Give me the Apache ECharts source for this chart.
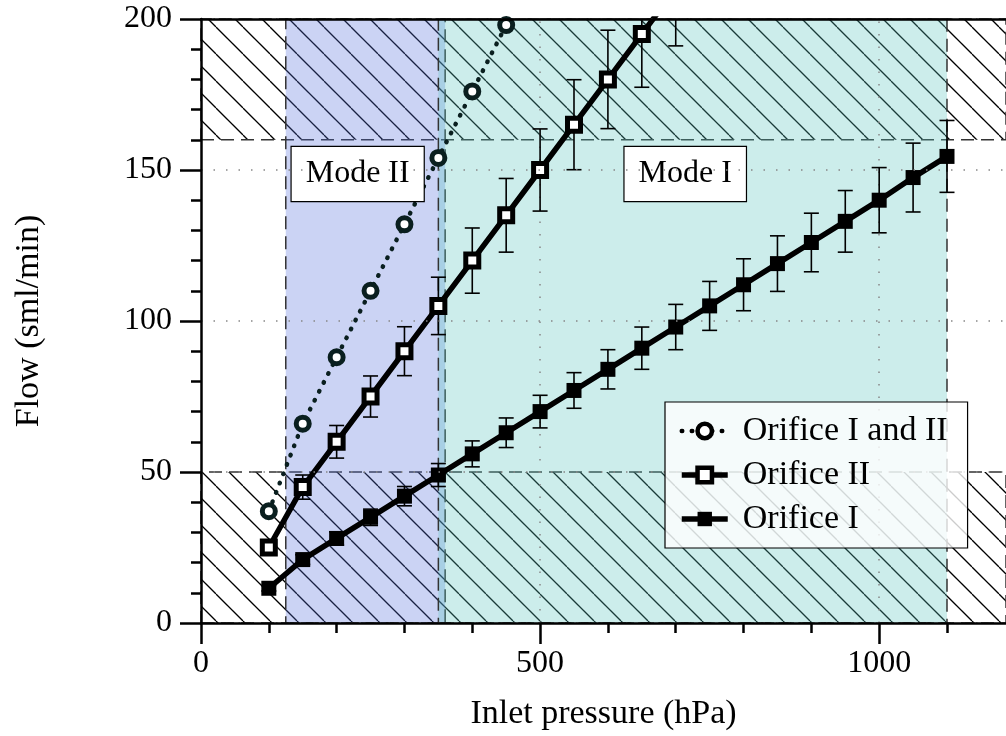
<!DOCTYPE html>
<html>
<head>
<meta charset="utf-8">
<title>Flow vs inlet pressure</title>
<script src="https://cdn.jsdelivr.net/npm/echarts@6/dist/echarts.min.js"></script>
<style>
  html, body { margin: 0; padding: 0; background: #fff; }
  #chart { width: 1006px; height: 736px; }
</style>
</head>
<body>
<div id="chart"></div>
<script>
const pressureBoth = [100, 150, 200, 250, 300, 350, 400, 450]
const flowBoth = [37, 66, 88, 110, 132, 154, 176, 198]

const pressureII = [100, 150, 200, 250, 300, 350, 400, 450, 500, 550, 600, 650, 700]
const flowII = [25, 45, 60, 75, 90, 105, 120, 135, 150, 165, 180, 195, 210]
const errII = [2.3, 4, 5.4, 6.8, 8.1, 9.5, 10.8, 12.2, 13.6, 14.9, 16.3, 17.6, 18.9]

const pressureI = [100, 150, 200, 250, 300, 350, 400, 450, 500, 550, 600, 650, 700, 750, 800, 850, 900, 950, 1000, 1050, 1100]
const flowI = [11.5, 21, 28, 35, 42, 49, 56, 63, 70, 77, 84, 91, 98, 105, 112, 119, 126, 133, 140, 147.5, 154.5]
const errI = [0.9, 1.6, 2.2, 2.7, 3.2, 3.8, 4.3, 4.9, 5.4, 5.9, 6.5, 7, 7.5, 8.1, 8.6, 9.2, 9.7, 10.2, 10.8, 11.4, 11.9]

// axis ticks
const xMajorTicks = [0, 500, 1000]
const xMinorTicks = [100, 200, 300, 400, 600, 700, 800, 900, 1100]

// operating ranges
const modeIIRange = [125, 360]
const modeIRange = [350, 1100]
const hatchBands = [[0, 50], [160, 200]]
const modeNames = ['Mode II', 'Mode I']

const FONT = "'Liberation Serif', 'DejaVu Serif', serif"
const FS = 32
const FS_BIG = 34
const X_MAX = 1187 // plot is cut at the right edge of the picture
const Y_MAX = 200

const chart = echarts.init(document.getElementById('chart'))

// diagonal hatch tile
function hatchTile() {
  const s = 27
  const c = document.createElement('canvas')
  c.width = s
  c.height = s
  const ctx = c.getContext('2d')
  ctx.strokeStyle = '#000'
  ctx.lineWidth = 1.3
  for (let k = -1; k <= 1; k++) {
    ctx.beginPath()
    ctx.moveTo(k * s, 0)
    ctx.lineTo(k * s + s, s)
    ctx.stroke()
  }
  return c
}

function pairs(xs, ys) {
  return xs.map((x, i) => [x, ys[i]])
}
function errData(xs, ys, es) {
  return xs.map((x, i) => [x, ys[i] - es[i], ys[i] + es[i]])
}

function renderErr(params, api) {
  const x = api.value(0)
  const lo = api.value(1)
  const hi = api.value(2)
  const top = api.coord([x, Math.min(hi, Y_MAX)])
  const bot = api.coord([x, lo])
  const half = 7.5
  const st = { stroke: '#000', lineWidth: 1.6 }
  const children = [
    { type: 'line', shape: { x1: top[0], y1: top[1], x2: bot[0], y2: bot[1] }, style: st },
    { type: 'line', shape: { x1: bot[0] - half, y1: bot[1], x2: bot[0] + half, y2: bot[1] }, style: st }
  ]
  if (hi <= Y_MAX) {
    children.push({ type: 'line', shape: { x1: top[0] - half, y1: top[1], x2: top[0] + half, y2: top[1] }, style: st })
  }
  return { type: 'group', children: children }
}

const dashBorder = { borderColor: '#333', borderWidth: 1.5, borderType: [13, 7] }
const dotted = { color: '#0a1f1f', width: 4.5, type: [0.5, 9.5], cap: 'round' }
const tickLine = { color: '#000', width: 2.5 }

chart.setOption({
  animation: false,
  grid: { left: 201, top: 19, right: 0, bottom: 111 },
  textStyle: { fontFamily: FONT },
  legend: {
    data: [
      {
        name: 'Orifice I and II',
        itemStyle: { color: '#fff', borderColor: '#000', borderWidth: 4.5 },
        lineStyle: { color: '#000', width: 4.5, type: [0.5, 9.5], cap: 'round' }
      },
      {
        name: 'Orifice II',
        itemStyle: { color: '#fff', borderColor: '#000', borderWidth: 4.5 },
        lineStyle: { color: '#000', width: 5.5 }
      },
      {
        name: 'Orifice I',
        itemStyle: { color: '#000' },
        lineStyle: { color: '#000', width: 5.5 }
      }
    ],
    orient: 'vertical',
    left: 665,
    top: 402,
    z: 12,
    padding: [12, 20, 12, 14],
    itemGap: 10,
    itemWidth: 46,
    itemHeight: 18,
    backgroundColor: 'rgba(255,255,255,0.8)',
    borderColor: '#000',
    borderWidth: 1.2,
    borderRadius: 0,
    textStyle: { fontFamily: FONT, fontSize: FS_BIG, color: '#000', padding: [0, 0, 0, 10] }
  },
  xAxis: [
    {
      type: 'value',
      min: 0,
      max: X_MAX,
      z: 10,
      name: 'Inlet pressure (hPa)',
      nameLocation: 'middle',
      nameGap: 74,
      nameTextStyle: { fontFamily: FONT, fontSize: FS_BIG, color: '#000' },
      axisLine: { onZero: false, lineStyle: tickLine },
      axisTick: { length: 21, customValues: xMajorTicks, lineStyle: tickLine },
      axisLabel: {
        margin: 25,
        customValues: xMajorTicks,
        fontFamily: FONT,
        fontSize: FS,
        color: '#000',
        formatter: v => String(v)
      },
      splitLine: { show: false }
    },
    {
      // minor ticks only
      type: 'value',
      position: 'bottom',
      min: 0,
      max: X_MAX,
      z: 10,
      axisLine: { show: false, onZero: false },
      axisTick: { length: 10, customValues: xMinorTicks, lineStyle: tickLine },
      axisLabel: { show: false },
      splitLine: { show: false }
    },
    {
      type: 'value',
      position: 'top',
      min: 0,
      max: X_MAX,
      z: 10,
      axisLine: { show: true, onZero: false, lineStyle: tickLine },
      axisTick: { show: false },
      axisLabel: { show: false },
      splitLine: { show: false }
    }
  ],
  yAxis: {
    type: 'value',
    min: 0,
    max: Y_MAX,
    interval: 50,
    z: 10,
    name: 'Flow (sml/min)',
    nameLocation: 'middle',
    nameGap: 155,
    nameTextStyle: { fontFamily: FONT, fontSize: FS_BIG, color: '#000' },
    axisLine: { show: true, lineStyle: tickLine },
    axisTick: { length: 21, lineStyle: tickLine },
    minorTick: { show: true, splitNumber: 5, length: 10, lineStyle: tickLine },
    axisLabel: { margin: 29, fontFamily: FONT, fontSize: FS, color: '#000' },
    splitLine: { show: true, lineStyle: { color: '#888', width: 1.5, type: [1.5, 11] } }
  },
  series: [
    {
      name: 'hatch',
      type: 'line',
      data: [],
      z: 1,
      markArea: {
        silent: true,
        itemStyle: Object.assign({ color: { image: hatchTile(), repeat: 'repeat' } }, dashBorder),
        data: hatchBands.map(b => [{ yAxis: b[0], xAxis: 0 }, { yAxis: b[1], xAxis: X_MAX + 20 }])
      },
      // dotted vertical grid at the labelled pressures
      markLine: {
        silent: true,
        symbol: 'none',
        label: { show: false },
        lineStyle: { color: '#888', width: 1.5, type: [1.5, 11] },
        data: xMajorTicks.filter(v => v > 0).map(v => ({ xAxis: v }))
      }
    },
    {
      name: 'modeII',
      type: 'line',
      data: [],
      z: 2,
      markArea: {
        silent: true,
        itemStyle: Object.assign({ color: 'rgba(82,108,218,0.3)' }, dashBorder),
        data: [[{ xAxis: modeIIRange[0], yAxis: 0 }, { xAxis: modeIIRange[1], yAxis: Y_MAX }]]
      }
    },
    {
      name: 'Orifice I and II',
      type: 'line',
      z: 3,
      data: pairs(pressureBoth, flowBoth),
      symbol: 'circle',
      symbolSize: 13,
      itemStyle: { color: '#fff', borderColor: '#0a1f1f', borderWidth: 5 },
      lineStyle: dotted
    },
    {
      name: 'modeI',
      type: 'line',
      data: [],
      z: 4,
      markArea: {
        silent: true,
        itemStyle: Object.assign({ color: 'rgba(85,195,188,0.3)' }, dashBorder),
        data: [[{ xAxis: modeIRange[0], yAxis: 0 }, { xAxis: modeIRange[1], yAxis: Y_MAX }]]
      }
    },
    {
      name: 'errII',
      type: 'custom',
      z: 5,
      renderItem: renderErr,
      data: errData(pressureII, flowII, errII)
    },
    {
      name: 'errI',
      type: 'custom',
      z: 5,
      renderItem: renderErr,
      data: errData(pressureI, flowI, errI)
    },
    {
      name: 'Orifice II',
      type: 'line',
      z: 6,
      data: pairs(pressureII, flowII),
      symbol: 'rect',
      symbolSize: 13,
      itemStyle: { color: '#fff', borderColor: '#000', borderWidth: 5 },
      lineStyle: { color: '#000', width: 5.5 }
    },
    {
      name: 'Orifice I',
      type: 'line',
      z: 6,
      data: pairs(pressureI, flowI),
      symbol: 'rect',
      symbolSize: 15,
      itemStyle: { color: '#000' },
      lineStyle: { color: '#000', width: 5.5 }
    },
    {
      name: 'labels',
      type: 'line',
      data: [],
      z: 11,
      markPoint: {
        silent: true,
        symbol: 'rect',
        symbolSize: 1,
        itemStyle: { color: 'rgba(0,0,0,0)' },
        label: {
          show: true,
          position: 'inside',
          formatter: '{b}',
          fontFamily: FONT,
          fontSize: FS,
          color: '#000',
          backgroundColor: '#fff',
          borderColor: '#000',
          borderWidth: 1.2,
          padding: [11, 14]
        },
        data: [
          { name: modeNames[0], coord: [231, 148.7] },
          { name: modeNames[1], coord: [714, 148.7] }
        ]
      }
    }
  ]
})
</script>
</body>
</html>
